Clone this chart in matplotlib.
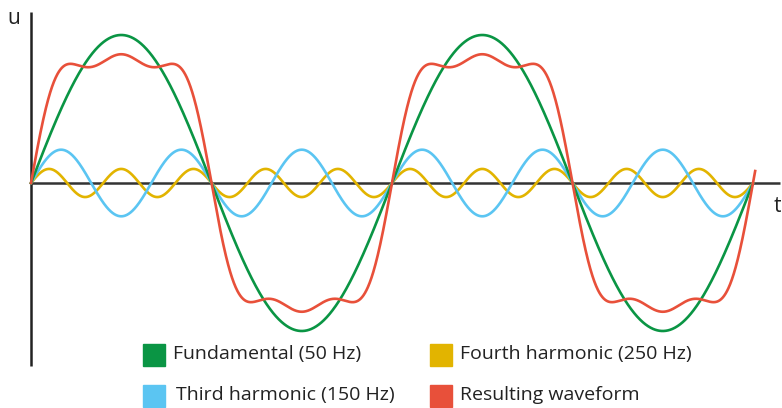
import matplotlib.pyplot as plt
from matplotlib.patches import Rectangle
import numpy as np

# DATA
freq = 50.0                      # Hz
duration = 40.0                  # ms, two periods
harmonics = [1, 3, 5]            # multiples of the fundamental
amplitudes = [1.0, 0.225, 0.095] # relative to fundamental
labels = [
    'Fundamental (50 Hz)',
    'Third harmonic (150 Hz)',
    'Fourth harmonic (250 Hz)',
    'Resulting waveform',
]
colors = ['#0a9544', '#5bc5f2', '#e2b400', '#e8503a']

plt.rcParams['font.family'] = ['Open Sans', 'DejaVu Sans']

fig = plt.figure(figsize=(7.82, 4.08), dpi=100)
ax = fig.add_axes([0, 0, 1, 1])

t = np.linspace(0, duration, 2000)
w = 2 * np.pi * freq / 1000.0
waves = [a * np.sin(h * w * t) for h, a in zip(harmonics, amplitudes)]

t_res = np.linspace(0, duration + 0.12, 2000)
result = sum(a * np.sin(h * w * t_res) for h, a in zip(harmonics, amplitudes))

# draw order: harmonics under, fundamental and result on top
ax.plot(t, waves[2], color=colors[2], lw=1.9, zorder=3)
ax.plot(t, waves[1], color=colors[1], lw=1.9, zorder=3)
ax.plot(t, waves[0], color=colors[0], lw=1.9, zorder=4)
ax.plot(t_res, result, color=colors[3], lw=1.9, zorder=5)

# axes lines
ax.plot([0, 0], [-1.235, 1.155], color='#222222', lw=1.8, zorder=2,
        solid_capstyle='butt')
ax.plot([0, 41.5], [0, 0], color='#333333', lw=1.8, zorder=2,
        solid_capstyle='butt')

px = 18.05  # pixels per ms
ax.set_xlim(-31 / px, (782 - 31) / px)
ax.set_ylim(-225 / 148, 183 / 148)
ax.axis('off')

ax.text(-0.6, 1.11, 'u', fontsize=15, ha='right', va='center', color='#222222')
ax.text(41.12, -0.16, 't', fontsize=15, ha='left', va='center', color='#222222')

# legend, two columns
order = [0, 2, 1, 3]
pos = [(143, 344, 173), (430, 344, 460), (143, 385, 176), (430, 385, 460)]
for k, (x0, y0, xt) in zip(order, pos):
    fig.patches.append(Rectangle((x0 / 782, 1 - (y0 + 22) / 408), 22 / 782, 22 / 408,
                                 transform=fig.transFigure, color=colors[k]))
    fig.text(xt / 782, 1 - (y0 + 10) / 408, labels[k], fontsize=14,
             ha='left', va='center', color='#222222')

plt.savefig('out.png', dpi=100)
